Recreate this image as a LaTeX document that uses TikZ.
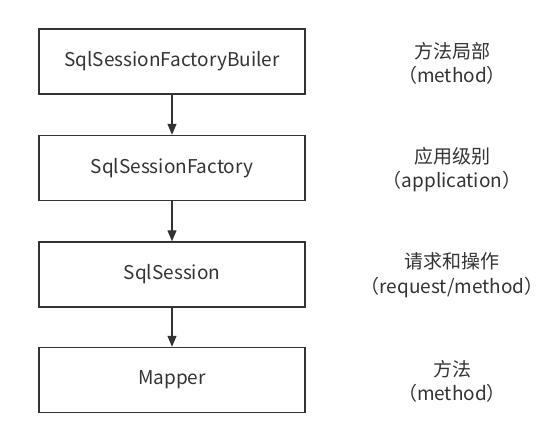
\documentclass[tikz,border=0pt]{standalone}
\usepackage{fontspec}
\setmainfont{Noto Sans CJK SC}
\usetikzlibrary{arrows.meta}
\definecolor{ink}{HTML}{333333}
\begin{document}
\begin{tikzpicture}[x=1pt,y=-1pt,
  box/.style={draw=ink,line width=1.4pt,minimum width=266pt,minimum height=65pt,inner sep=0pt,text=ink,font=\fontsize{19}{22}\selectfont},
  note/.style={align=center,text=ink,font=\fontsize{19}{24.5}\selectfont},
  link/.style={draw=ink,line width=1.3pt,-{Triangle[length=11pt,width=9pt]}}]
\useasboundingbox (0,0) rectangle (556,434);
\node[box] (b1) at (172,61.5) {SqlSessionFactoryBuiler};
\node[box] (b2) at (172,168) {SqlSessionFactory};
\node[box] (b3) at (172,274.5) {SqlSession};
\node[box] (b4) at (172,380) {Mapper};
\node[note] (n1) at (452,63.5) {方法局部\\（method）};
\node[note] (n2) at (452,169.5) {应用级别\\（application）};
\node[note] (n3) at (452,275) {请求和操作\\（request/method）};
\node[note] (n4) at (452,381.5) {方法\\（method）};
\draw[link] (b1) -- (b2);
\draw[link] (b2) -- (b3);
\draw[link] (b3) -- (b4);
\end{tikzpicture}
\end{document}
